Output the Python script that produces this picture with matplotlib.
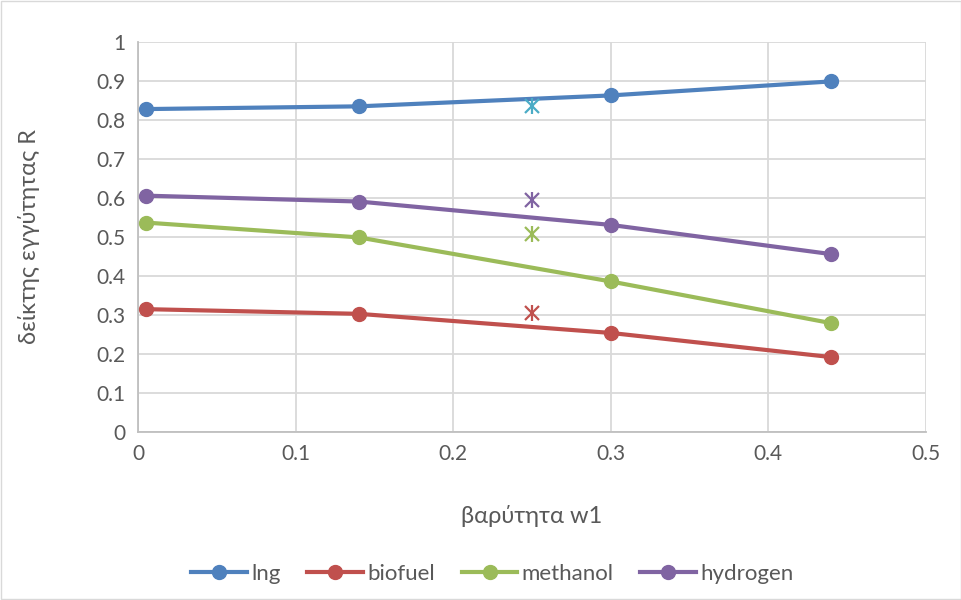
import numpy as np
import matplotlib.pyplot as plt
from matplotlib.lines import Line2D

plt.rcParams['font.family'] = ['Lato', 'DejaVu Sans']

# %% data
w1 = [0.005, 0.14, 0.30, 0.44]
lng = [0.828, 0.835, 0.863, 0.899]
biofuel = [0.315, 0.303, 0.254, 0.192]
methanol = [0.537, 0.499, 0.386, 0.279]
hydrogen = [0.606, 0.591, 0.531, 0.456]

w_star = 0.25
star_vals = [0.836, 0.306, 0.507, 0.596]  # lng, biofuel, methanol, hydrogen

names = ['lng', 'biofuel', 'methanol', 'hydrogen']
colors = ['#4F81BD', '#C0504D', '#9BBB59', '#8064A2']
star_colors = ['#4BACC6', '#C0504D', '#9BBB59', '#8064A2']

# %% plot
fig = plt.figure(figsize=(9.62, 6.0), dpi=100)
ax = fig.add_axes([138 / 962, 1 - 432 / 600, (926 - 138) / 962, (432 - 42) / 600])

for name, ys, c in zip(names, [lng, biofuel, methanol, hydrogen], colors):
    ax.plot(w1, ys, color=c, lw=3, marker='o', ms=10, label=name, zorder=3)

# excel-style star: x plus vertical bar
for v, c in zip(star_vals, star_colors):
    ax.plot([w_star], [v], linestyle='none', marker='x', ms=10, mew=1.6, color=c, zorder=4)
    ax.plot([w_star], [v], linestyle='none', marker='|', ms=12, mew=1.6, color=c, zorder=4)

ax.set_xlim(0, 0.5)
ax.set_ylim(0, 1)
ax.set_xticks(np.arange(0, 0.51, 0.1))
ax.set_yticks(np.arange(0, 1.01, 0.1))
ax.set_xticklabels(['0', '0.1', '0.2', '0.3', '0.4', '0.5'])
ax.set_yticklabels(['0'] + ['%.1f' % v for v in np.arange(0.1, 0.95, 0.1)] + ['1'])
ax.grid(True, color='#D9D9D9', lw=1.3)
ax.set_axisbelow(True)
for s in ['top', 'right']:
    ax.spines[s].set_visible(False)
for s in ['left', 'bottom']:
    ax.spines[s].set_color('#BFBFBF')
    ax.spines[s].set_linewidth(1.3)
ax.tick_params(length=0, labelsize=15, colors='#595959', pad=9)

ax.set_xlabel('βαρύτητα w1', fontsize=17, color='#595959')
ax.set_ylabel('δείκτης εγγύτητας R', fontsize=17, color='#595959')
ax.xaxis.set_label_coords(0.5, -(505 - 432) / 390)
ax.yaxis.set_label_coords(-(138 - 40) / 788, 0.5)

handles = [Line2D([], [], color=c, lw=3, marker='o', ms=10) for c in colors]
fig.legend(handles, names, loc='center', bbox_to_anchor=(0.512, 1 - 574 / 600),
           ncol=4, frameon=False, fontsize=16, handlelength=2.5,
           columnspacing=1.2, handletextpad=0.2, labelcolor='#595959')

fig.patches.append(plt.Rectangle((0.001, 0.001), 0.998, 0.998, transform=fig.transFigure,
                                 fill=False, ec='#D9D9D9', lw=1))

fig.savefig('out.png', dpi=100)
